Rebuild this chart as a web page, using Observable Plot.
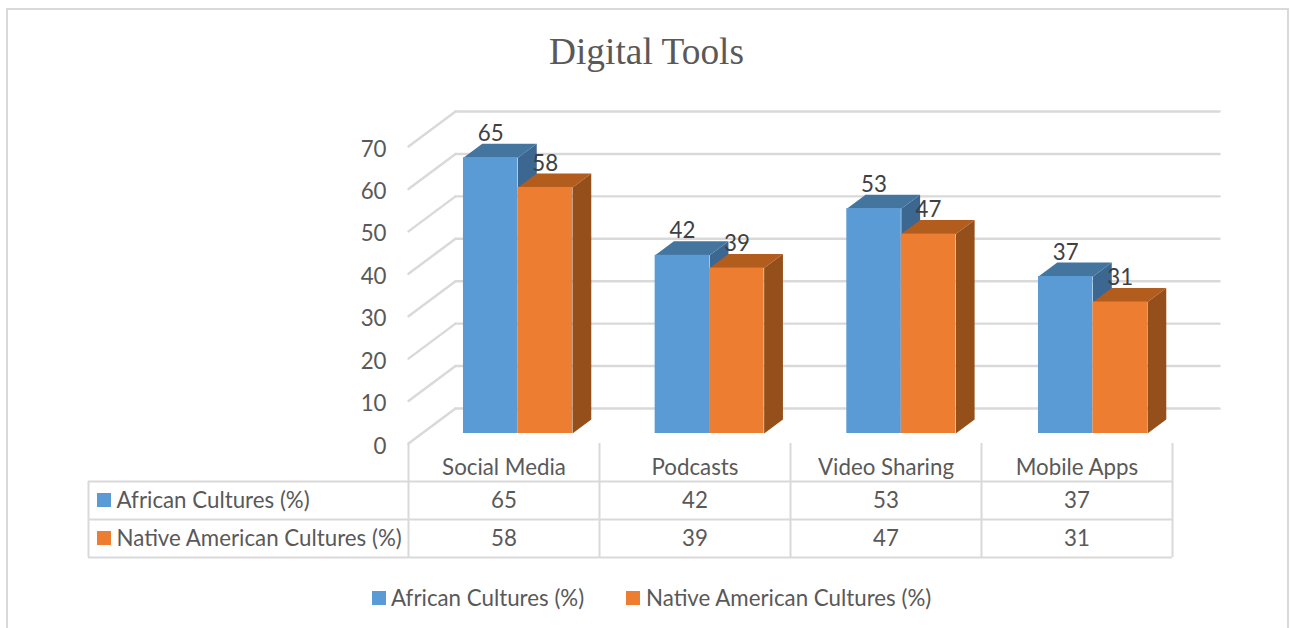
<!DOCTYPE html>
<html>
<head>
<meta charset="utf-8">
<script src="https://cdn.jsdelivr.net/npm/d3@7"></script>
<script src="https://cdn.jsdelivr.net/npm/@observablehq/plot@0.6"></script>
<style>
  html, body { margin: 0; padding: 0; background: #fff; overflow: hidden; }
  #chart { position: relative; width: 1290px; height: 628px; overflow: hidden; font-family: Lato, sans-serif; color: #595959; }
  #frame { position: absolute; left: 6px; top: 8px; width: 1279px; height: 640px; border: 2px solid #d9d9d9; box-sizing: content-box; pointer-events: none; }
  #title { position: absolute; left: 0; top: 29px; width: 1293px; text-align: center; font: 37.4px "Liberation Serif", serif; line-height: 46px; color: #595959; }
  #plot { position: absolute; left: 0; top: 90px; }
  #legend { position: absolute; left: 0; top: 583px; width: 1290px; height: 30px; font-size: 22.3px; line-height: 30px; }
  #legend span { position: absolute; white-space: nowrap; }
  #legend i { position: absolute; top: 8px; width: 14px; height: 14px; }
</style>
</head>
<body>
<div id="chart">
  <div id="frame"></div>
  <div id="title"></div>
  <div id="plot"></div>
  <div id="legend"></div>
</div>
<script>
const chartTitle = "Digital Tools";
const categories = ["Social Media", "Podcasts", "Video Sharing", "Mobile Apps"];
const african = [65, 42, 53, 37];
const nativeAm = [58, 39, 47, 31];
const seriesNames = ["African Cultures (%)", "Native American Cultures (%)"];
const yTicks = [0, 10, 20, 30, 40, 50, 60, 70];
const seriesColors = ["#5b9bd5", "#ed7d31"];
const topColors = ["#44759f", "#b25c1e"];
const sideColors = ["#3c6791", "#944f1a"];

const lineGrey = "#d9d9d9";
const seriesValues = [african, nativeAm];

// Oblique projection expressed in scale units: u = category units, v = value, d = depth 0..1
const pxX = 1 / 191, pxV = 70 / 297;
const skewU = 47 * pxX, skewV = 35 * pxV;
const project = (u, v, d) => ({x: u + d * skewU, y: v + d * skewV});
const nearD = 10 / 35, farD = 24 / 35;
const barW = 54.5 * pxX, firstU = 0.2175, stepU = 1.0035;

const barsFor = s => categories.map((c, i) => {
  const u0 = firstU + i * stepU + s * barW, u1 = u0 + barW, v = seriesValues[s][i];
  return {c, i, s, u0, u1, v};
});
const poly = (id, color, pts) => pts.map(p => ({id, color, ...p}));
const faces = s => barsFor(s).flatMap(b => [
  ...poly(`side-${s}-${b.i}`, sideColors[s], [project(b.u1, 0, nearD), project(b.u1, 0, farD), project(b.u1, b.v, farD), project(b.u1, b.v, nearD)]),
  ...poly(`top-${s}-${b.i}`, topColors[s], [project(b.u0, b.v, nearD), project(b.u0, b.v, farD), project(b.u1, b.v, farD), project(b.u1, b.v, nearD)])
]);
const fronts = s => barsFor(s).map(b => {
  const a = project(b.u0, 0, nearD), e = project(b.u1, b.v, nearD);
  return {x1: a.x, x2: e.x, y1: a.y, y2: e.y, color: seriesColors[s]};
});

const gridSide = yTicks.flatMap(t => [{t, ...project(0, t, 0)}, {t, ...project(0, t, 1)}]);
const gridBack = yTicks.flatMap(t => [{t, ...project(0, t, 1)}, {t, ...project(4, t, 1)}]);

// Table rows sit below the zero line, in the same scale units
const rowV = r => -38 * pxV * (r + 1);       // line r of the table
const rowMid = r => -(38 * pxV) * (r + 1.5); // middle of data row r
const headMid = -24 * pxV;
const labelU = -292 * pxX, swatchU = -311 * pxX, tableLeftU = -320 * pxX;

const tableCells = seriesValues.flatMap((vals, r) => vals.map((v, i) => ({v, i, r})));

const fontSize = 22.3;
const plot = Plot.plot({
  width: 1290,
  height: 480,
  marginLeft: 408, marginRight: 118, marginTop: 56, marginBottom: 127,
  x: {type: "linear", domain: [0, 4], axis: null},
  y: {type: "linear", domain: [0, 70], axis: null},
  style: {fontFamily: "Lato, sans-serif", color: "#595959", background: "transparent", overflow: "visible"},
  marks: [
    Plot.line(gridSide, {x: "x", y: "y", z: "t", stroke: lineGrey, strokeWidth: 2.4}),
    Plot.line(gridBack, {x: "x", y: "y", z: "t", stroke: lineGrey, strokeWidth: 2.4}),
    Plot.axisY(yTicks, {anchor: "left", tickSize: 0, tickPadding: 22, dy: 3, fontSize, label: null, fill: "#595959"}),

    ...[0, 1].flatMap(s => [
      Plot.line(faces(s), {x: "x", y: "y", z: "id", curve: "linear-closed", fill: {value: "color", scale: null}, stroke: null}),
      Plot.rect(fronts(s), {x1: "x1", x2: "x2", y1: "y1", y2: "y2", fill: {value: "color", scale: null}})
    ]),

    ...[0, 1].map(s => Plot.text(barsFor(s), {
      x: b => (b.u0 + b.u1) / 2 + nearD * skewU,
      y: b => project(0, b.v, nearD).y,
      text: b => String(b.v), dy: -24, fontSize, fill: "#404040"
    })),

    // data table
    Plot.ruleX(d3.range(5), {y1: 0, y2: rowV(2), stroke: lineGrey, strokeWidth: 2}),
    Plot.ruleY([rowV(0), rowV(1), rowV(2)], {x1: tableLeftU, x2: 4, stroke: lineGrey, strokeWidth: 2}),
    Plot.ruleX([tableLeftU], {y1: rowV(0), y2: rowV(2), stroke: lineGrey, strokeWidth: 2}),
    Plot.text(categories, {x: (d, i) => i + 0.5, y: () => headMid, text: d => d, fontSize, fill: "#595959"}),
    Plot.text(tableCells, {x: d => d.i + 0.5, y: d => rowMid(d.r), text: d => String(d.v), fontSize, fill: "#595959"}),
    Plot.text(seriesNames, {x: () => labelU, y: (d, i) => rowMid(i), text: d => d, textAnchor: "start", fontSize, fill: "#595959"}),
    Plot.rect(seriesNames, {
      x1: () => swatchU, x2: () => swatchU + 14 * pxX,
      y1: (d, i) => rowMid(i) - 7 * pxV, y2: (d, i) => rowMid(i) + 7 * pxV,
      fill: (d, i) => seriesColors[i]
    })
  ]
});
document.getElementById("plot").appendChild(plot);
document.getElementById("title").textContent = chartTitle;

const legendSwatchX = [372, 626], legendTextX = [391, 646];
const legend = document.getElementById("legend");
seriesNames.forEach((n, i) => {
  const sw = document.createElement("i");
  sw.style.left = legendSwatchX[i] + "px";
  sw.style.background = seriesColors[i];
  const t = document.createElement("span");
  t.style.left = legendTextX[i] + "px";
  t.textContent = n;
  legend.append(sw, t);
});
</script>
</body>
</html>
